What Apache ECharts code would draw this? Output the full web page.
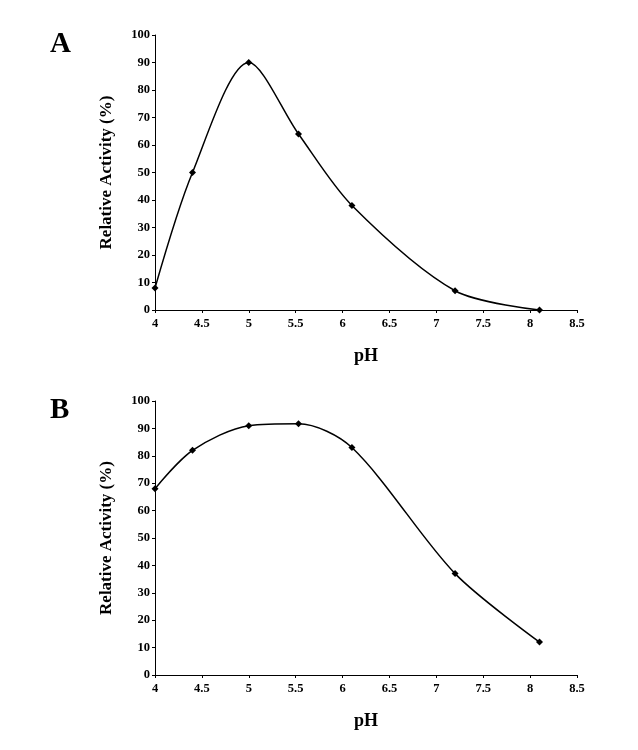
<!DOCTYPE html>
<html>
<head>
<meta charset="utf-8">
<script src="https://cdn.jsdelivr.net/npm/echarts@6/dist/echarts.min.js"></script>
<style>
  html, body { margin: 0; padding: 0; background: #fff; }
  #chart { width: 638px; height: 750px; }
</style>
</head>
<body>
<div id="chart"></div>
<script>
// pH profile, panel A and panel B
const phA = [4, 4.4, 5, 5.53, 6.1, 7.2, 8.1];
const activityA = [8, 50, 90, 64, 38, 7, 0];
const phB = [4, 4.4, 5, 5.53, 6.1, 7.2, 8.1];
const activityB = [68, 82, 91, 91.7, 83, 37, 12];
const panelLabels = ['A', 'B'];

const FONT = '"Liberation Serif", "Times New Roman", serif';

const chart = echarts.init(document.getElementById('chart'));

function xAxis(gridIndex) {
  return {
    gridIndex,
    type: 'value',
    min: 4,
    max: 8.5,
    interval: 0.5,
    name: 'pH',
    nameLocation: 'middle',
    nameGap: 37,
    nameTextStyle: { fontFamily: FONT, fontWeight: 'bold', fontSize: 18, color: '#000' },
    axisLine: { lineStyle: { color: '#000', width: 1 } },
    axisTick: { show: true, length: 3, lineStyle: { color: '#000' } },
    axisLabel: { fontFamily: FONT, fontWeight: 'bold', fontSize: 12.5, color: '#000', margin: 7 },
    splitLine: { show: false },
  };
}

function yAxis(gridIndex) {
  return {
    gridIndex,
    type: 'value',
    min: 0,
    max: 100,
    interval: 10,
    name: 'Relative Activity (%)',
    nameLocation: 'middle',
    nameGap: 40,
    nameTextStyle: { fontFamily: FONT, fontWeight: 'bold', fontSize: 17, color: '#000' },
    axisLine: { show: true, lineStyle: { color: '#000', width: 1 } },
    axisTick: { show: true, length: 3, lineStyle: { color: '#000' } },
    axisLabel: { fontFamily: FONT, fontWeight: 'bold', fontSize: 12.5, color: '#000', margin: 5 },
    splitLine: { show: false },
  };
}

function series(idx, xs, ys) {
  return {
    type: 'line',
    xAxisIndex: idx,
    yAxisIndex: idx,
    data: xs.map((x, i) => [x, ys[i]]),
    smooth: 0.3,
    symbol: 'diamond',
    symbolSize: 7,
    itemStyle: { color: '#000' },
    lineStyle: { color: '#000', width: 1.5 },
  };
}

chart.setOption({
  animation: false,
  backgroundColor: '#fff',
  grid: [
    { left: 155, top: 35, width: 422, height: 275 },
    { left: 155, top: 401, width: 422, height: 274 },
  ],
  xAxis: [xAxis(0), xAxis(1)],
  yAxis: [yAxis(0), yAxis(1)],
  series: [series(0, phA, activityA), series(1, phB, activityB)],
  graphic: [
    { type: 'text', left: 50, top: 30, style: { text: panelLabels[0], font: 'bold 29px ' + FONT, fill: '#000' } },
    { type: 'text', left: 50, top: 396, style: { text: panelLabels[1], font: 'bold 29px ' + FONT, fill: '#000' } },
  ],
});
</script>
</body>
</html>
